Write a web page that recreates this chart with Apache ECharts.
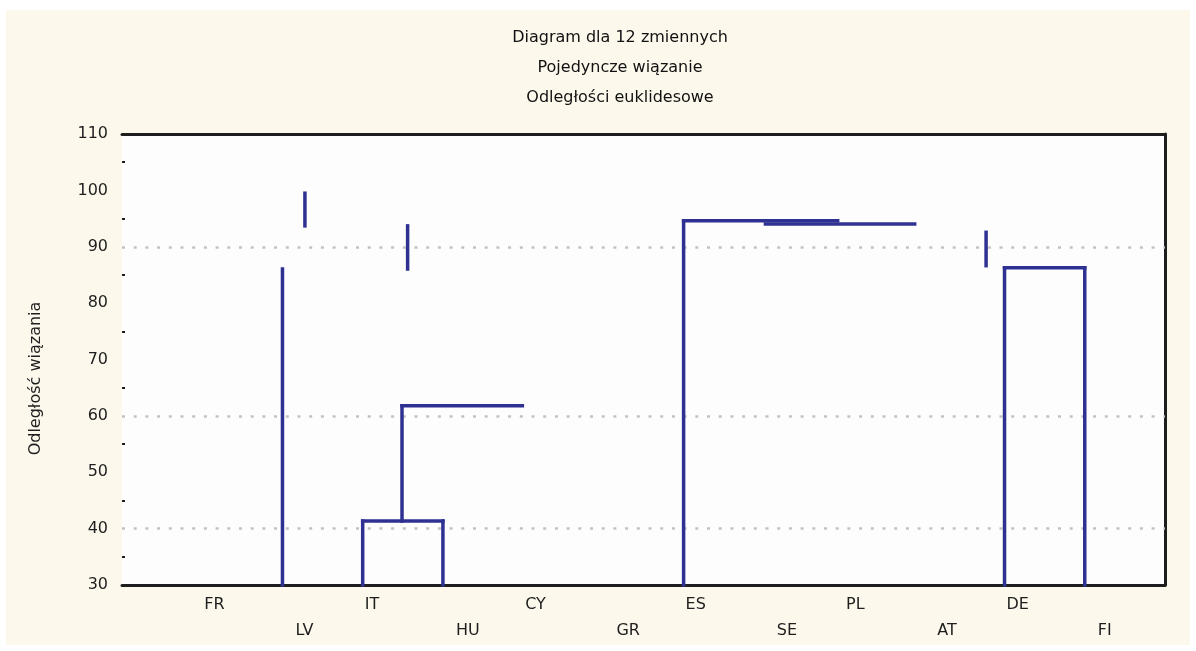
<!DOCTYPE html>
<html><head><meta charset="utf-8">
<script src="https://cdn.jsdelivr.net/npm/echarts@6/dist/echarts.min.js"></script>
<style>
html,body{margin:0;padding:0;background:#ffffff;}
#bg{position:absolute;left:6px;top:10px;width:1184px;height:635px;background:#fcf8ec;}
#c{position:absolute;left:0;top:0;width:1196px;height:651px;}
</style></head><body>
<div id="bg"></div><div id="c"></div>
<script>
const titleLines = ['Diagram dla 12 zmiennych', 'Pojedyncze wiązanie', 'Odległości euklidesowe'];
const yAxisTitle = 'Odległość wiązania';
const leafLabels = ['FR', 'LV', 'IT', 'HU', 'CY', 'GR', 'ES', 'SE', 'PL', 'AT', 'DE', 'FI'];
const yTicks = [30, 40, 50, 60, 70, 80, 90, 100, 110];
const gridValues = [40, 60, 90];
// vertical links: [leaf position, height from, height to]
const verticalLinks = [
  [2, 30, 86.05], [2.28, 93.7, 99.5], [3.56, 86.05, 93.7],
  [3, 30, 41.35], [4, 30, 41.35], [3.49, 41.35, 61.8],
  [7, 30, 94.6], [10.77, 86.64, 92.56], [11, 30, 86.28], [12, 30, 86.28]
];
// horizontal links: [leaf position from, leaf position to, height]
const horizontalLinks = [
  [3, 4, 41.35], [3.49, 4.99, 61.8], [7, 8.92, 94.6], [8.02, 9.88, 94.04], [11, 12, 86.28]
];

const segs = verticalLinks.map(v => [v[0], v[1], v[0], v[2]])
  .concat(horizontalLinks.map(h => [h[0], h[2], h[1], h[2]]));

const FONT = 'DejaVu Sans';
const chart = echarts.init(document.getElementById('c'), null, {renderer: 'canvas'});
chart.setOption({
  backgroundColor: 'transparent',
  animation: false,
  title: {
    text: titleLines.join('\n'),
    left: 620, top: 23, textAlign: 'center', padding: 0,
    textStyle: {fontFamily: FONT, fontSize: 16, fontWeight: 'normal', color: '#111', lineHeight: 30}
  },
  grid: {left: 122, right: 31, top: 134, bottom: 66, show: true, backgroundColor: '#fdfdfd', borderWidth: 0},
  xAxis: [{
    type: 'value', min: 0, max: leafLabels.length + 1, interval: 1,
    axisLine: {show: true, lineStyle: {color: '#1e1e1e', width: 3}},
    axisTick: {show: false}, splitLine: {show: false},
    axisLabel: {
      show: true, margin: 7, align: 'left', lineHeight: 26, color: '#1e1e1e',
      fontFamily: FONT, fontSize: 16, hideOverlap: false,
      formatter: v => {
        const i = Math.round(v);
        if (i < 1 || i > leafLabels.length || Math.abs(v - i) > 1e-6) return '';
        const name = leafLabels[i - 1];
        return i % 2 === 1 ? '{a|' + name + '}' : '\n{b|' + name + '}';
      },
      rich: {
        a: {fontFamily: FONT, fontSize: 16, lineHeight: 26, color: '#1e1e1e', padding: [0, 0, 0, 2]},
        b: {fontFamily: FONT, fontSize: 16, lineHeight: 26, color: '#1e1e1e', padding: [0, 0, 0, 13]}
      }
    }
  }, {
    type: 'value', position: 'top', min: 0, max: leafLabels.length + 1,
    axisLine: {show: true, onZero: false, lineStyle: {color: '#1e1e1e', width: 3}},
    axisTick: {show: false}, axisLabel: {show: false}, splitLine: {show: false}
  }],
  yAxis: [{
    type: 'value', min: yTicks[0], max: yTicks[yTicks.length - 1], interval: yTicks[1] - yTicks[0],
    name: yAxisTitle, nameLocation: 'middle', nameGap: 78,
    nameTextStyle: {fontFamily: FONT, fontSize: 16, color: '#1e1e1e', padding: [0, 38, 0, 0]},
    axisLine: {show: false},
    axisTick: {show: false, inside: true},
    minorTick: {show: true, splitNumber: 2, length: 3, lineStyle: {color: '#1e1e1e', width: 2}},
    splitLine: {show: false},
    axisLabel: {margin: 14, fontFamily: FONT, fontSize: 16, color: '#1e1e1e'}
  }, {
    type: 'value', position: 'right', min: yTicks[0], max: yTicks[yTicks.length - 1],
    axisLine: {show: true, onZero: false, lineStyle: {color: '#1e1e1e', width: 3}},
    axisTick: {show: false}, axisLabel: {show: false}, splitLine: {show: false}
  }],
  series: [{
    type: 'custom',
    coordinateSystem: 'cartesian2d',
    xAxisIndex: 0, yAxisIndex: 0,
    data: segs,
    encode: {x: [0, 2], y: [1, 3]},
    z: 5,
    renderItem: (params, api) => {
      const p0 = api.coord([api.value(0), api.value(1)]);
      const p1 = api.coord([api.value(2), api.value(3)]);
      return {
        type: 'line',
        shape: {x1: p0[0], y1: p0[1], x2: p1[0], y2: p1[1]},
        style: {stroke: '#2e3192', lineWidth: 3.5, lineCap: 'square'}
      };
    },
    markLine: {
      silent: true, symbol: 'none', label: {show: false}, z: 1,
      lineStyle: {color: '#c2c2c2', width: 2.5, type: [3, 8.7]},
      data: gridValues.map(v => ({yAxis: v}))
    }
  }]
});
</script>
</body></html>
